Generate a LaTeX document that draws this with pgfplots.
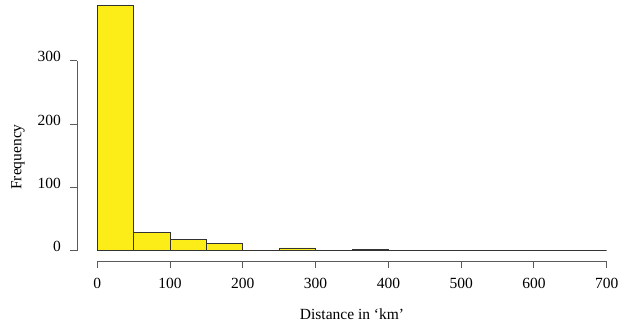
\documentclass[border=0pt]{standalone}
\usepackage{fontspec}
\setmainfont{Liberation Serif}
\usepackage{pgfplots}
\pgfplotsset{compat=1.18}
\definecolor{baryellow}{RGB}{252,236,24}
\definecolor{edge}{RGB}{51,51,51}
\definecolor{axgray}{RGB}{90,90,90}
\begin{document}
\fontsize{15.5}{18}\selectfont
\begin{tikzpicture}[every node/.append style={font=\fontsize{15.5}{18}\selectfont}]
\path[use as bounding box] (-77pt,-64pt) rectangle (553pt,261pt);
\begin{axis}[
  at={(0pt,0pt)}, anchor=south west,
  scale only axis, width=550pt, height=265pt,
  xmin=-28, xmax=728, ymin=-16.6, ymax=402.5,
  axis x line*=bottom, axis y line*=left,
  axis line style={draw=none},
  xtick={0,100,...,700}, ytick={0,100,200,300},
  tick align=outside, major tick length=7pt,
  tick style={axgray, line width=0.9pt},
  every tick label/.append style={font=\fontsize{15.5}{18}\selectfont},
  /pgf/number format/assume math mode=true,
  xticklabel style={anchor=north, inner sep=0pt, yshift=-10pt},
  yticklabel style={anchor=east, inner sep=0pt, xshift=-9pt, yshift=4pt},
  clip=false,
]
\addplot[ybar interval, fill=baryellow, draw=edge, line width=0.9pt] coordinates {
  (0,387) (50,29) (100,17) (150,11) (200,0) (250,4) (300,0) (350,1)
  (400,0) (450,0) (500,0) (550,0) (600,0) (650,0) (700,0)
};
\draw[axgray, line width=0.9pt] (axis cs:0,-16.6) -- (axis cs:700,-16.6);
\draw[axgray, line width=0.9pt] (axis cs:-28,0) -- (axis cs:-28,300);
\end{axis}
\node[rotate=90] at (-59pt,104pt) {Frequency};
\node at (275pt,-53pt) {Distance in `km'};
\end{tikzpicture}
\end{document}
